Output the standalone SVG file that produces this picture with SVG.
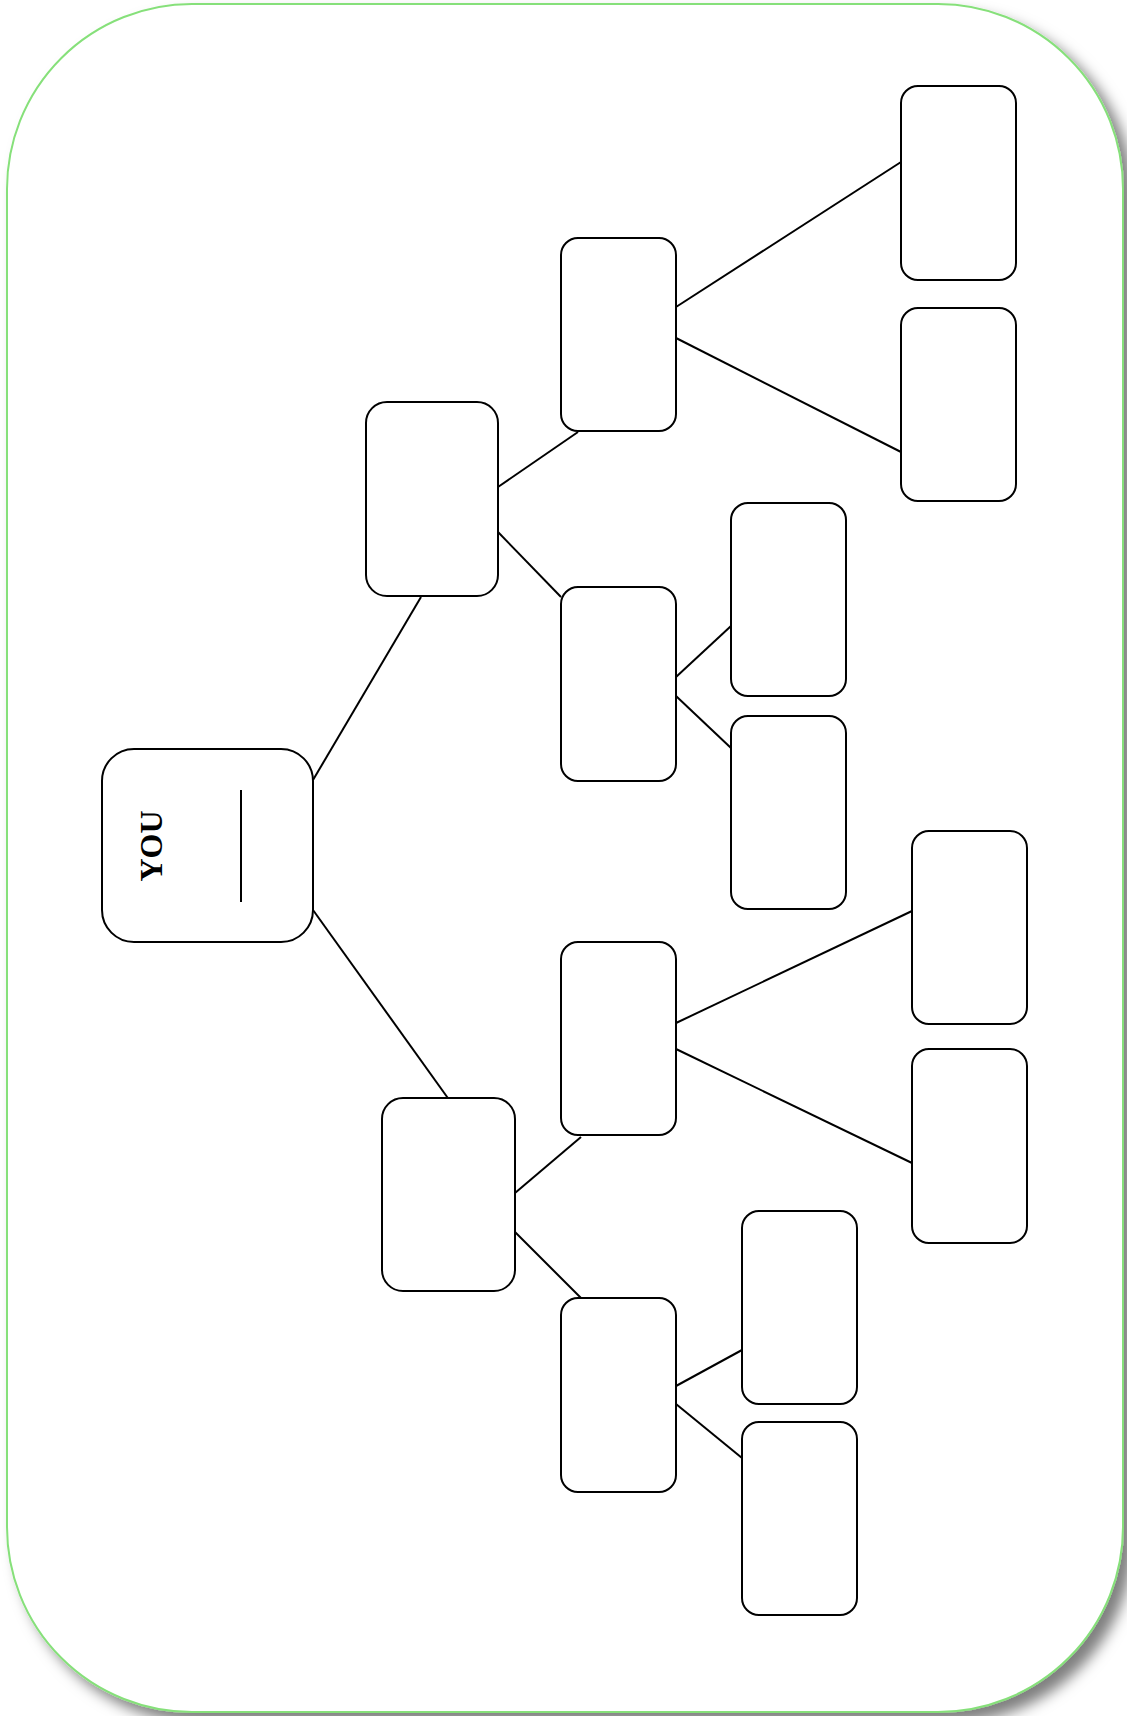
<svg xmlns="http://www.w3.org/2000/svg" width="1127" height="1716" viewBox="0 0 1127 1716">
<style>
.n{fill:#fff;stroke:#000;stroke-width:2}
.c line{stroke:#000;stroke-width:2}
.t{font-family:"Liberation Serif",serif;font-weight:bold;font-size:32px;fill:#000}
</style>
<defs>
<filter id="sh" x="-5%" y="-5%" width="115%" height="115%">
<feDropShadow dx="10" dy="10" stdDeviation="7" flood-color="#000" flood-opacity="0.5"/>
</filter>
</defs>
<rect width="1127" height="1716" fill="#fff"/>
<rect id="frame" x="7" y="4" width="1116" height="1708" rx="185" ry="185" fill="#fff" stroke="#86e07a" stroke-width="2" filter="url(#sh)"/>
<g id="connectors" class="c">
<line x1="313" y1="780" x2="421" y2="597"/>
<line x1="313" y1="910" x2="450" y2="1101"/>
<line x1="498" y1="487" x2="578" y2="432"/>
<line x1="498" y1="532" x2="561" y2="597"/>
<line x1="676" y1="307" x2="901" y2="162"/>
<line x1="676" y1="338" x2="901" y2="452"/>
<line x1="676" y1="677" x2="731" y2="626"/>
<line x1="676" y1="696" x2="731" y2="748"/>
<line x1="515" y1="1193" x2="581" y2="1137"/>
<line x1="515" y1="1232" x2="581" y2="1298"/>
<line x1="676" y1="1023" x2="912" y2="911"/>
<line x1="676" y1="1049" x2="912" y2="1163"/>
<line x1="676" y1="1386" x2="742" y2="1350"/>
<line x1="676" y1="1404" x2="742" y2="1458"/>
</g>
<g id="you">
<rect class="n" x="102" y="749" width="211" height="193" rx="32"/>
<text class="t" transform="translate(162,846) rotate(-90)" text-anchor="middle">YOU</text>
<line x1="241" y1="790" x2="241" y2="902" stroke="#000" stroke-width="2"/>
</g>
<g id="n1"><rect class="n" x="366" y="402" width="132" height="194" rx="21"/></g>
<g id="n2"><rect class="n" x="382" y="1098" width="133" height="193" rx="21"/></g>
<g id="n11"><rect class="n" x="561" y="238" width="115" height="193" rx="17"/></g>
<g id="n12"><rect class="n" x="561" y="587" width="115" height="194" rx="17"/></g>
<g id="n21"><rect class="n" x="561" y="942" width="115" height="193" rx="17"/></g>
<g id="n22"><rect class="n" x="561" y="1298" width="115" height="194" rx="17"/></g>
<g id="n111"><rect class="n" x="901" y="86" width="115" height="194" rx="17"/></g>
<g id="n112"><rect class="n" x="901" y="308" width="115" height="193" rx="17"/></g>
<g id="n121"><rect class="n" x="731" y="503" width="115" height="193" rx="17"/></g>
<g id="n122"><rect class="n" x="731" y="716" width="115" height="193" rx="17"/></g>
<g id="n211"><rect class="n" x="912" y="831" width="115" height="193" rx="17"/></g>
<g id="n212"><rect class="n" x="912" y="1049" width="115" height="194" rx="17"/></g>
<g id="n221"><rect class="n" x="742" y="1211" width="115" height="193" rx="17"/></g>
<g id="n222"><rect class="n" x="742" y="1422" width="115" height="193" rx="17"/></g>
</svg>
